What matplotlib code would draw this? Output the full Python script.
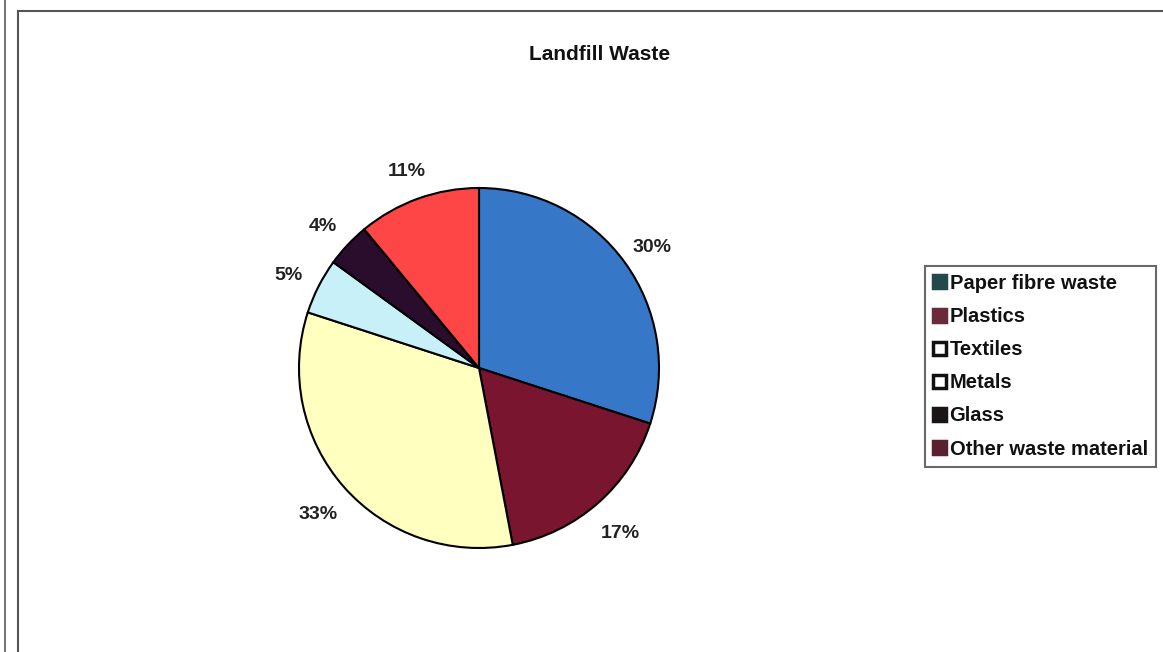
import matplotlib.pyplot as plt
from matplotlib.patches import Patch
from matplotlib.lines import Line2D
import matplotlib.transforms as mtransforms

plt.rcParams['font.family'] = ['Liberation Sans', 'DejaVu Sans']

# data
categories = ["Paper fibre waste", "Plastics", "Yellow", "Light blue", "Dark", "Red"]
shares = [30, 17, 33, 5, 4, 11]
slice_colors = ["#3677c8", "#7a1530", "#ffffc0", "#c8f0f8", "#2a0c2c", "#ff4646"]

legend_labels = ["Paper fibre waste", "Plastics", "Textiles", "Metals", "Glass",
                 "Other waste material"]
legend_faces = ["#24484e", "#6a2a3a", "#ffffff", "#ffffff", "#1a1414", "#5a2030"]
legend_edges = ["#24484e", "#6a2a3a", "#111111", "#111111", "#1a1414", "#5a2030"]

W, H = 1163, 652
fig = plt.figure(figsize=(W / 100, H / 100), dpi=100)

# page frame lines
fig.add_artist(Line2D([5 / W, 5 / W], [0, 1], color="#777777", lw=1.5))
fig.add_artist(Line2D([18 / W, 18 / W], [0, 1 - 11 / H], color="#555555", lw=1.5))
fig.add_artist(Line2D([18 / W, 1], [1 - 11 / H, 1 - 11 / H], color="#555555", lw=1.5))

cx, cy, half = 479, 368, 270
ax = fig.add_axes([(cx - half) / W, (H - cy - half) / H, 2 * half / W, 2 * half / H])
wedges, texts = ax.pie(shares, colors=slice_colors, startangle=90, counterclock=False,
                       labels=[f"{s}%" for s in shares], labeldistance=1.19,
                       wedgeprops=dict(edgecolor="black", linewidth=1.5),
                       textprops=dict(fontsize=14, fontweight="bold", color="#222222"))
shift = mtransforms.ScaledTranslation(0, -5 / 100, fig.dpi_scale_trans)
for t in texts:
    t.set_horizontalalignment("center")
    t.set_verticalalignment("center")
    t.set_transform(t.get_transform() + shift)
ax.set_xlim(-1.5, 1.5)
ax.set_ylim(-1.5, 1.5)
ax.set_aspect("equal")
ax.axis("off")

fig.text(600 / W, 1 - 55 / H, "Landfill Waste", ha="center", va="center",
         fontsize=15, fontweight="bold", color="#111111")

handles = [Patch(facecolor=f, edgecolor=e, linewidth=2.5) for f, e in zip(legend_faces, legend_edges)]
leg = fig.legend(handles, legend_labels, loc="upper left",
                 bbox_to_anchor=(925 / W, 1 - 266 / H),
                 prop=dict(size=14.5, weight="bold"), frameon=True, fancybox=False,
                 edgecolor="#444444", handlelength=0.62, handleheight=0.62,
                 handletextpad=0.2, labelspacing=0.7, borderpad=0.4,
                 borderaxespad=0)
leg.get_frame().set_linewidth(1.5)
for t in leg.get_texts():
    t.set_color("#111111")

fig.savefig("out.png", dpi=100)
